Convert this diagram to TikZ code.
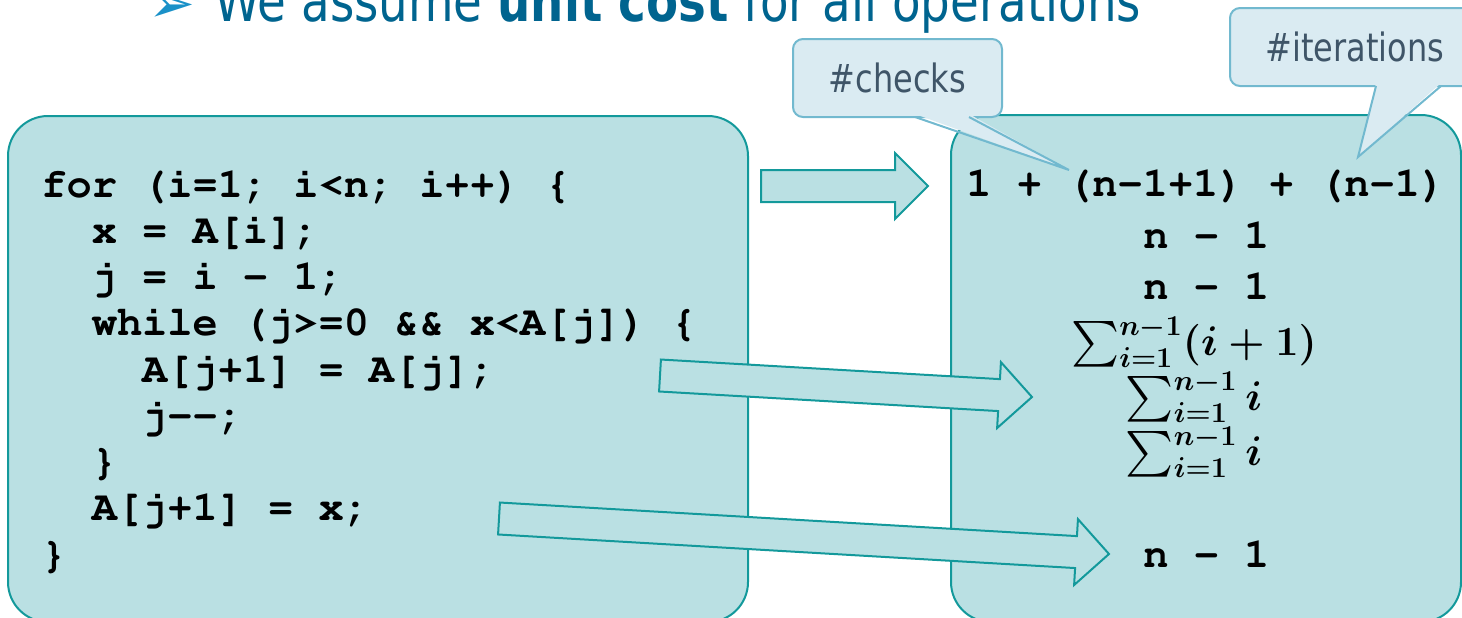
\documentclass[tikz,border=0pt]{standalone}
\usepackage[T1]{fontenc}
\usepackage{amsmath}
\usepackage{graphicx}
\usepackage{fontspec}
\newfontfamily\sansnarrow{DejaVu Sans}[FakeStretch=0.82]
\newfontfamily\dingfont{DejaVu Sans}
\newcommand\codefont{\fontencoding{T1}\fontfamily{pcr}\fontseries{b}\fontshape{n}}
\usetikzlibrary{shapes.arrows,calc}
\definecolor{boxfill}{HTML}{BAE0E3}
\definecolor{boxdraw}{HTML}{13999B}
\definecolor{callfill}{HTML}{DAEBF2}
\definecolor{calldraw}{HTML}{72B9CF}
\definecolor{calltext}{HTML}{3F5568}
\definecolor{titlecol}{HTML}{00648F}
\definecolor{bulletcol}{HTML}{1A91C8}
\tikzset{
  box/.style={draw=boxdraw, fill=boxfill, line width=1pt, rounded corners=20pt, inner sep=0pt, outer sep=0pt},
  callbox/.style={draw=calldraw, fill=callfill, line width=1pt, rounded corners=5pt, inner sep=0pt, outer sep=0pt,
    text=calltext, font=\sansnarrow\fontsize{19.5}{22}\selectfont},
  callptr/.style={draw=calldraw, line width=1pt, line join=miter},
  barrow/.style={single arrow, draw=boxdraw, fill=boxfill, line width=1pt, inner xsep=0pt, inner ysep=7.5pt,
    single arrow head extend=8.5pt, outer sep=0pt},
  code/.style={anchor=base west, inner sep=0pt, font=\codefont\fontsize{21}{23}\selectfont},
  mathline/.style={anchor=base, inner sep=0pt, font=\fontsize{19.5}{22}\selectfont},
}
\newcommand\ind{\hspace*{1.2em}}
\newcommand\bsum{\mathop{\smash{\vcenter{\hbox{\scalebox{1.1}{$\sum$}}}}\vphantom{\sum}}\nolimits}
\newcommand\sumplus{{\boldmath$\bsum_{i=1}^{n-1}(i+1)$}}
\newcommand\sumi{{\boldmath$\bsum_{i=1}^{n-1} i$}}
\begin{document}
\begin{tikzpicture}[x=0.5pt,y=-0.5pt]
\useasboundingbox (0,0) rectangle (1462,617);
\clip (0,0) rectangle (1462,617);
% title (cut off at the top)
\node[anchor=base west, inner sep=0pt, text=bulletcol, font=\dingfont\fontsize{28}{30}\selectfont] (bullet) at (148,22) {➢};
\node[anchor=base west, inner sep=0pt, text=titlecol, font=\sansnarrow\fontsize{28.5}{30}\selectfont] (title) at (214,21) {We assume \textbf{unit cost} for all operations};
% boxes
\node[box, anchor=north west, minimum width=370pt, minimum height=253pt] (codebox) at (8,116) {};
\node[box, anchor=north west, minimum width=255pt, minimum height=253.5pt] (costbox) at (951,115) {};
% code lines
\node[code] (c1) at (41,197) {for (i=1; i<n; i++) \{};
\node[code] (c2) at (41,243.25) {\ind x = A[i];};
\node[code] (c3) at (41,289.5) {\ind j = i - 1;};
\node[code] (c4) at (41,335.75) {\ind while (j>=0 \&\& x<A[j]) \{};
\node[code] (c5) at (41,382) {\ind\ind A[j+1] = A[j];};
\node[code] (c6) at (41,428.25) {\ind\ind j-{}-;};
\node[code] (c7) at (41,474.5) {\ind \}};
\node[code] (c8) at (41,520.75) {\ind A[j+1] = x;};
\node[code] (c9) at (41,567) {\}};
% cost lines
\node[code] (r1) at (966,196) {1 + (n-1+1) + (n-1)};
\node[code] (r2) at (1143,248) {n \textendash{} 1};
\node[code] (r3) at (1143,299) {n \textendash{} 1};
\node[mathline] (m1) at (1194,355) {\sumplus};
\node[mathline] (m2) at (1194,410) {\sumi};
\node[mathline] (m3) at (1194,465) {\sumi};
\node[code] (r7) at (1143,567) {n \textendash{} 1};
% block arrows
\coordinate (a1s) at (761,186);   \coordinate (a1t) at (928,186);
\coordinate (a2s) at (660,375.5); \coordinate (a2t) at (1032,397);
\coordinate (a3s) at (499,518.5); \coordinate (a3t) at (1109,554);
\foreach \s/\t/\nm in {a1s/a1t/arr1, a2s/a2t/arr2, a3s/a3t/arr3}{
  \path let \p1=($(\t)-(\s)$), \n1={atan2(\y1,\x1)}, \n2={veclen(\x1,\y1)} in
    node[barrow, minimum height=\n2, rotate=\n1, anchor=tail] (\nm) at (\s) {};
}
% callouts
\node[callbox, anchor=north west, minimum width=104.5pt, minimum height=39pt] (checks) at (793,39) {\#checks};
\coordinate (chkA) at (915,117); \coordinate (chkB) at (969,117); \coordinate (chkT) at (1069,170);
\fill[callfill] ($(chkA)+(0,-3)$) -- (chkT) -- ($(chkB)+(0,-3)$) -- cycle;
\draw[callptr] (chkA) -- (chkT) -- (chkB);
\node[callbox, anchor=north west, minimum width=125pt, minimum height=39pt] (iters) at (1230,8) {\#iterations};
\coordinate (itA) at (1376,86); \coordinate (itB) at (1441,86); \coordinate (itT) at (1358,157);
\fill[callfill] ($(itA)+(0,-3)$) -- (itT) -- ($(itB)+(0,-3)$) -- cycle;
\draw[callptr] (itA) -- (itT) -- (itB);
\end{tikzpicture}
\end{document}
